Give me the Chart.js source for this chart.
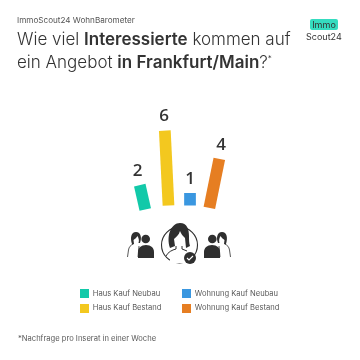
<!DOCTYPE html>
<html lang="de">
<head>
<meta charset="utf-8">
<title>WohnBarometer</title>
<script src="https://cdn.jsdelivr.net/npm/chart.js@4"></script>
<style>
html, body { margin: 0; padding: 0; background: #fff; }
#wrap { position: relative; width: 360px; height: 360px; overflow: hidden; font-family: Inter, sans-serif; color: #3c3c3c; }
#grafica { position: absolute; left: 0; top: 0; }
.abs { position: absolute; white-space: nowrap; }
#kicker { left: 17px; top: 15px; font-size: 8.15px; line-height: 11px; color: #555; }
.titulo { left: 17px; font-size: 17px; font-weight: 300; line-height: 24px; color: #333; }
.titulo b { font-weight: 600; }
.titulo sup { font-size: 8px; line-height: 0; }
#logoTop { left: 310px; top: 19px; width: 28px; height: 11px; background: #35dcc0; border-radius: 2px; text-align: center; font-size: 9px; line-height: 12px; color: #333; }
#logoBot { left: 306px; top: 31px; font-size: 9px; line-height: 12px; color: #333; }
.leg { font-size: 7.6px; line-height: 10px; color: #5a5a5a; }
.box { position: absolute; width: 9.3px; height: 9.3px; }
#nota { left: 18px; top: 334px; font-size: 7.6px; line-height: 10px; color: #5a5a5a; }
#iconos { position: absolute; left: 120px; top: 215px; }
</style>
</head>
<body>
<div id="wrap">
    <canvas id="grafica" width="360" height="360"></canvas>
    <div class="abs" id="kicker">ImmoScout24 WohnBarometer</div>
    <div class="abs titulo" style="top:27px">Wie viel <b>Interessierte</b> kommen auf</div>
    <div class="abs titulo" style="top:49.5px">ein Angebot <b>in Frankfurt/Main</b>?<sup>*</sup></div>
    <div class="abs" id="logoTop">Immo</div>
    <div class="abs" id="logoBot">Scout24</div>
    <svg id="iconos" width="120" height="50" viewBox="0 0 120 50">
        <g id="pareja" fill="#2f2f2f">
            <path d="M12 29c-2-6-1-12 4-12s6 6 4 11h-1.5c1-3 0-5-1-7-1 2-3 3-4 4l.5 4z"/>
            <path fill="none" stroke="#2f2f2f" stroke-width=".8" d="M13.5 29c-3 1-4.5 3-5 6l-1 7M19 31l-1 11"/>
            <circle cx="25.7" cy="24" r="4.3"/>
            <path d="M18 43v-6c0-4 3-7 8-7s8 3 8 7v6z"/>
        </g>
        <use href="#pareja" transform="matrix(-1 0 0 1 118 0)"/>
        <circle cx="59.5" cy="30" r="18" fill="none" stroke="#2f2f2f" stroke-width="1.1"/>
        <path fill="#fff" d="M50 36h20v12H50z"/>
        <path fill="#2f2f2f" d="M50 33c-4-12 1-25 10-25 7 0 9 6 9 13 0 4 0 7 1 10l-4 2-1-10c-2-2-4-4-5-7-1 4-4 6-6 8l1 7z"/>
        <path fill="none" stroke="#2f2f2f" stroke-width="1" d="M56 31v3c-4 1-8 3-10 7M62 31v3l5 2"/>
        <circle cx="70" cy="43" r="6" fill="#2f2f2f"/>
        <path fill="none" stroke="#fff" stroke-width="1.1" d="M67 43l2 2 4-4"/>
    </svg>
    <div id="leyenda"></div>
    <div class="abs" id="nota">*Nachfrage pro Inserat in einer Woche</div>
</div>
<script>
const categorias = ['Haus Kauf Neubau', 'Haus Kauf Bestand', 'Wohnung Kauf Neubau', 'Wohnung Kauf Bestand'];
const interessierte = [2, 6, 1, 4];
const colores = ['#12c9a9', '#f3c81f', '#3a97e0', '#e67e22'];

// los bares salen inclinados en abanico: grados y ajuste de la base en px
const giro = [-12.7, -2.8, 0, 11.5];
const ajusteX = [-1.4, 0.5, 0.7, -1.3];
const ajusteY = [4, 0, 0, 2.3];
// ajuste de la cifra sobre cada barra
const cifraX = [1, 0, 0, -1];

const plugin_abanico = {
    id: 'abanico',
    beforeDatasetsDraw(chart) {
        const meta = chart.getDatasetMeta(0);
        meta.data.forEach((bar, i) => {
            if (bar.draw !== Chart.BarElement.prototype.draw) return;
            bar.draw = function (ctx) {
                const p = this.getProps(['x', 'base'], true);
                ctx.save();
                ctx.translate(p.x + ajusteX[i], p.base + ajusteY[i]);
                ctx.rotate(giro[i] * Math.PI / 180);
                ctx.translate(-p.x, -p.base);
                Chart.BarElement.prototype.draw.call(this, ctx);
                ctx.restore();
            };
        });
    },
    afterDatasetsDraw(chart) {
        const ctx = chart.ctx;
        const meta = chart.getDatasetMeta(0);
        meta.data.forEach((bar, i) => {
            const p = bar.getProps(['x', 'y', 'base'], true);
            ctx.save();
            ctx.translate(p.x + ajusteX[i], p.base + ajusteY[i]);
            ctx.rotate(giro[i] * Math.PI / 180);
            ctx.translate(0, p.y - p.base - 14);
            ctx.rotate(-giro[i] * Math.PI / 180);
            ctx.fillStyle = '#333333';
            ctx.font = '600 17px "Open Sans"';
            ctx.textAlign = 'center';
            ctx.textBaseline = 'middle';
            ctx.fillText(String(interessierte[i]), cifraX[i], 0);
            ctx.restore();
        });
    }
};

const grafica = new Chart(document.getElementById('grafica').getContext('2d'), {
    type: 'bar',
    data: {
        labels: categorias,
        datasets: [{
            label: 'Interessierte',
            data: interessierte,
            backgroundColor: colores,
            clip: false,
            barPercentage: 0.55,
            categoryPercentage: 1
        }]
    },
    options: {
        responsive: false,
        animation: false,
        layout: { padding: { left: 136, right: 138.7, top: 130.5, bottom: 154.5 } },
        plugins: { legend: { display: false }, tooltip: { enabled: false } },
        scales: {
            x: { display: false },
            y: { display: false, min: 0, max: 6 }
        }
    },
    plugins: [plugin_abanico]
});

// leyenda en dos columnas, sale de las mismas listas
const leyenda = document.getElementById('leyenda');
const posLeyenda = [[80, 293.5], [80, 308], [182, 293.5], [182, 308]];
categorias.forEach((nombre, i) => {
    const caja = document.createElement('div');
    caja.className = 'box';
    caja.style.left = posLeyenda[i][0] + 'px';
    caja.style.top = posLeyenda[i][1] - 4.5 + 'px';
    caja.style.background = colores[i];
    const txt = document.createElement('div');
    txt.className = 'abs leg';
    txt.textContent = nombre;
    txt.style.left = posLeyenda[i][0] + 12.8 + 'px';
    txt.style.top = posLeyenda[i][1] - 5 + 'px';
    leyenda.append(caja, txt);
});
</script>
</body>
</html>
